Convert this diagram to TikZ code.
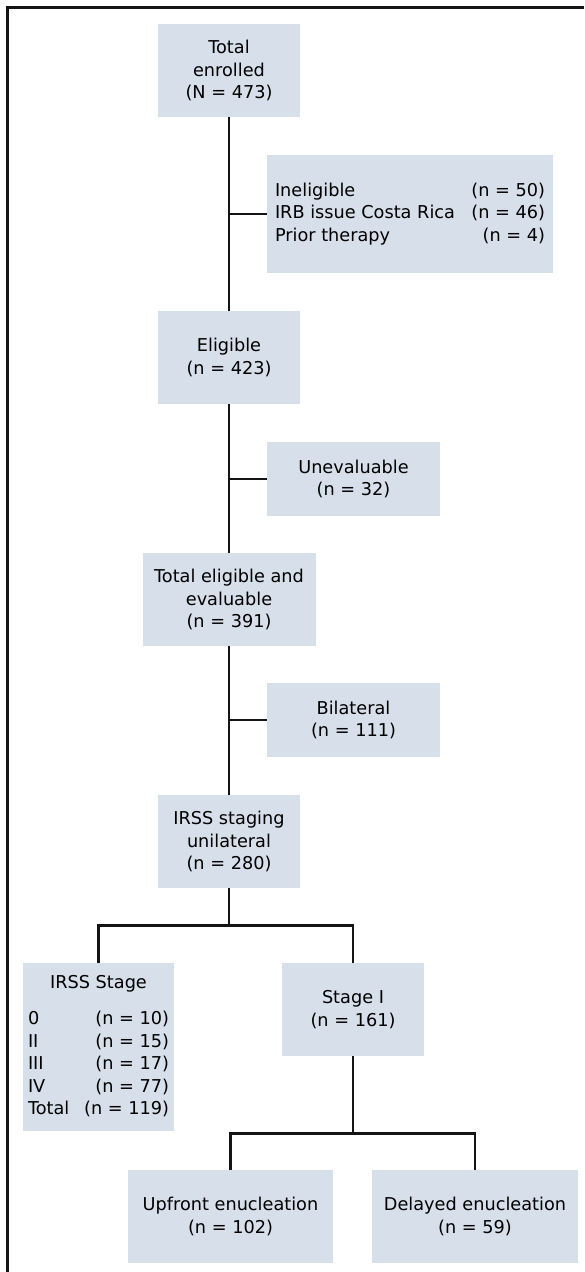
\documentclass[tikz,border=0pt]{standalone}
\usepackage{fontspec}
\setmainfont{DejaVu Sans}
\usepackage{array}
\usetikzlibrary{calc}
\definecolor{boxfill}{RGB}{214,223,234}
\definecolor{linecol}{RGB}{20,20,20}
\begin{document}
\begin{tikzpicture}[x=1pt,y=-1pt,
  box/.style={fill=boxfill, inner sep=0pt, align=center, font=\fontsize{17.7}{22.5}\selectfont},
  tbox/.style={fill=boxfill, inner sep=0pt, font=\fontsize{17.7}{22.5}\selectfont},
  conn/.style={draw=linecol, line width=2.7pt},
  framel/.style={draw=linecol, line width=2.1pt}]
\useasboundingbox (0,0) rectangle (584,1272);
\coordinate (fa) at (7.5,1272);
\coordinate (fb) at (7.5,7.5);
\coordinate (fc) at (584,7.5);
\draw[framel] (fa) -- (fb) -- (fc);

\node[box, minimum width=142pt, minimum height=93pt] (enr) at (229,70.5) {Total\\enrolled\\(N = 473)};
\node[tbox, minimum width=286pt, minimum height=118pt] (excl) at (410,214)
  {\begin{tabular*}{270pt}{@{}l@{\extracolsep{\fill}}r@{}}Ineligible & (n = 50)\\ IRB issue Costa Rica & (n = 46)\\ Prior therapy & (n = 4)\end{tabular*}};
\node[box, minimum width=142pt, minimum height=93pt] (elig) at (229,357.5) {Eligible\\(n = 423)};
\node[box, minimum width=173pt, minimum height=74pt] (unev) at (353.5,479) {Unevaluable\\(n = 32)};
\node[box, minimum width=173pt, minimum height=93pt] (tee) at (229,599.5) {Total eligible and\\evaluable\\(n = 391)};
\node[box, minimum width=173pt, minimum height=74pt] (bil) at (353.5,720) {Bilateral\\(n = 111)};
\node[box, minimum width=142pt, minimum height=93pt] (irss) at (229,841.5) {IRSS staging\\unilateral\\(n = 280)};
\node[tbox, minimum width=151pt, minimum height=168pt] (stg) at (98.5,1047)
  {\begin{tabular*}{141pt}{@{}l@{\extracolsep{\fill}}r@{}}\multicolumn{2}{c}{IRSS Stage}\\[14pt]
   0 & (n = 10)\\ II & (n = 15)\\ III & (n = 17)\\ IV & (n = 77)\\ Total & (n = 119)\end{tabular*}};
\node[box, minimum width=142pt, minimum height=93pt] (st1) at (353,1009.5) {Stage I\\(n = 161)};
\node[box, minimum width=205pt, minimum height=93pt] (upf) at (230.5,1216.5) {Upfront enucleation\\(n = 102)};
\node[box, minimum width=206pt, minimum height=93pt] (del) at (475,1216.5) {Delayed enucleation\\(n = 59)};

\draw[conn] (enr.south) -- (elig.north);
\draw[conn] (excl.west) -- (excl.west -| enr.south);
\draw[conn] (elig.south) -- (tee.north);
\draw[conn] (unev.west) -- (unev.west -| elig.south);
\draw[conn] (tee.south) -- (irss.north);
\draw[conn] (bil.west) -- (bil.west -| tee.south);

\coordinate (s1) at ($(irss.south)+(0,37)$);
\draw[conn] (irss.south) -- (s1);
\draw[conn] (stg.north) -- (stg.north |- s1) -- (st1.north |- s1) -- (st1.north);

\coordinate (s2) at ($(st1.south)+(0,77)$);
\draw[conn] (st1.south) -- (s2);
\draw[conn] (upf.north) -- (upf.north |- s2) -- (del.north |- s2) -- (del.north);
\end{tikzpicture}
\end{document}
